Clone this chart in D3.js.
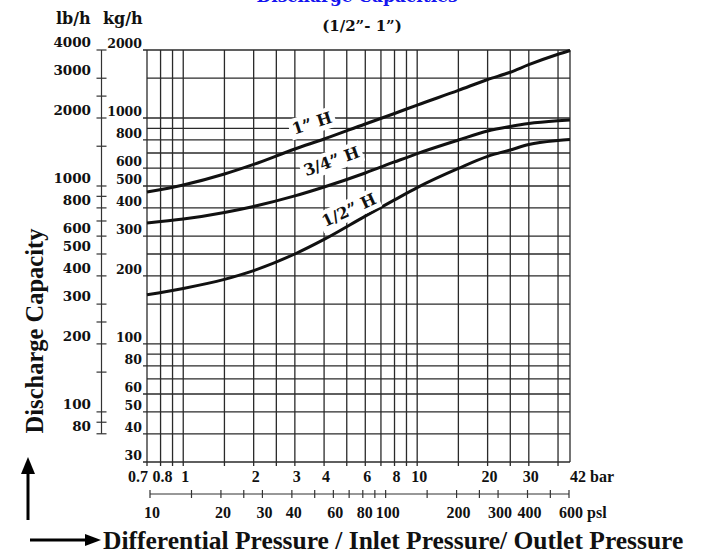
<!DOCTYPE html>
<html>
<head>
<meta charset="utf-8">
<script src="https://cdn.jsdelivr.net/npm/d3@7"></script>
<style>
  body { margin: 0; background: #fff; }
  svg { display: block; }
  .num { font-family: "DejaVu Serif", serif; font-weight: bold; fill: #111; }
  .tnum { font-family: "Liberation Serif", "Times New Roman", serif; font-weight: bold; fill: #111; }
</style>
</head>
<body>
<svg id="chart" width="707" height="554"></svg>
<script>
// values
const pressureBar = [0.7, 1, 1.5, 2, 3, 4, 6, 8, 10, 15, 20, 25, 30, 40, 45];
const cap1 = [470, 505, 565, 623, 729, 807, 941, 1047, 1141, 1325, 1481, 1594, 1722, 1916, 1990];
const cap34 = [343, 357, 382, 406, 452, 495, 571, 639, 696, 799, 876, 917, 945, 972, 980];
const cap12 = [165, 176, 193, 211, 250, 290, 368, 434, 492, 598, 676, 722, 763, 795, 803];

const curveNames = ["1\u201D H", "3/4\u201D H", "1/2\u201D H"];
const labelBar = [3.55, 4.3, 5.1];
const labelKg = [950, 645, 392];
const labelAngle = [-18, -20, -25];

const barGrid = [0.7, 0.8, 0.9, 1, 1.5, 2, 2.5, 3, 4, 5, 6, 7, 8, 9, 10, 15, 20, 25, 30, 40, 45];
const barLabels = [0.7, 0.8, 1, 2, 3, 4, 6, 8, 10, 20, 30];
const psiTicks = [10, 15, 20, 25, 30, 40, 50, 60, 70, 80, 90, 100, 150, 200, 250, 300, 400, 500, 600];
const psiLabels = [10, 20, 30, 40, 60, 80, 100, 200, 300, 400, 600];
const kgGrid = [2000, 1500, 1000, 900, 800, 700, 600, 500, 400, 300, 250, 200, 150, 100, 90, 80, 70, 60, 50, 40, 30];
const kgLabels = [2000, 1000, 800, 600, 500, 400, 300, 200, 100, 80, 60, 50, 40, 30];
const lbTicks = [4000, 3000, 2500, 2000, 1500, 1000, 900, 800, 700, 600, 500, 400, 300, 250, 200, 150, 100, 90, 80];
const lbLabels = [4000, 3000, 2000, 1000, 800, 600, 500, 400, 300, 200, 100, 80];

const svg = d3.select("#chart");

const x = d3.scaleLog().domain([0.7, 45]).range([147, 570]);
const y = d3.scaleLog().domain([30, 2000]).range([462, 50]);
const yLb = d3.scaleLog().domain([60, 4000]).range([462, 50]);
const xPsi = d3.scaleLog().domain([10, 600]).range([150, 569]);

const grid = svg.append("g").attr("stroke", "#2a2a2a").attr("stroke-width", 1.3);

// horizontal grid (kg/h)
grid.selectAll(".hgrid")
    .data(kgGrid)
    .join("line")
    .attr("class", "hgrid")
    .attr("x1", d => kgLabels.includes(d) ? x.range()[0] - 4 : x.range()[0])
    .attr("x2", x.range()[1])
    .attr("y1", d => y(d))
    .attr("y2", d => y(d));

// vertical grid (bar)
grid.selectAll(".vgrid")
    .data(barGrid)
    .join("line")
    .attr("class", "vgrid")
    .attr("x1", d => x(d))
    .attr("x2", d => x(d))
    .attr("y1", y.range()[1])
    .attr("y2", d => d === 45 ? y.range()[0] : y.range()[0] + 4);

// kg/h labels
svg.selectAll(".kglab")
    .data(kgLabels)
    .join("text")
    .attr("class", "kglab num")
    .attr("x", x.range()[0] - 5)
    .attr("y", d => y(d) - 2)
    .attr("text-anchor", "end")
    .style("font-size", "12.5px")
    .text(d => d);

// lb/h axis
const lbAxis = svg.append("g").attr("stroke", "#333").attr("stroke-width", 1.2);
lbAxis.append("line")
    .attr("x1", 101.5).attr("x2", 101.5)
    .attr("y1", yLb(4000)).attr("y2", yLb(80));
lbAxis.selectAll(".lbtick")
    .data(lbTicks)
    .join("line")
    .attr("x1", 96.5).attr("x2", 106.5)
    .attr("y1", d => yLb(d)).attr("y2", d => yLb(d));

svg.selectAll(".lblab")
    .data(lbLabels)
    .join("text")
    .attr("class", "lblab num")
    .attr("x", 91)
    .attr("y", d => yLb(d) - 3)
    .attr("text-anchor", "end")
    .style("font-size", "13.5px")
    .text(d => d);

// unit headers
svg.append("text").attr("class", "num").attr("x", 56).attr("y", 24)
    .style("font-size", "16px").text("lb/h");
svg.append("text").attr("class", "num").attr("x", 103).attr("y", 24)
    .style("font-size", "16px").text("kg/h");

// bar labels
svg.selectAll(".barlab")
    .data(barLabels)
    .join("text")
    .attr("class", "barlab tnum")
    .attr("x", d => x(d) + (d === 0.7 ? 1 : 2))
    .attr("y", 482)
    .attr("text-anchor", d => d === 0.7 ? "end" : "middle")
    .style("font-size", "16px")
    .text(d => d);
svg.append("text").attr("class", "tnum")
    .attr("x", x.range()[1]).attr("y", 482)
    .style("font-size", "16px").text("42 bar");

// psi axis
const psiAxis = svg.append("g").attr("stroke", "#333").attr("stroke-width", 1.2);
psiAxis.append("line")
    .attr("x1", xPsi.range()[0]).attr("x2", xPsi.range()[1])
    .attr("y1", 494).attr("y2", 494);
psiAxis.selectAll(".psitick")
    .data(psiTicks)
    .join("line")
    .attr("x1", d => xPsi(d)).attr("x2", d => xPsi(d))
    .attr("y1", 490).attr("y2", 498);

svg.selectAll(".psilab")
    .data(psiLabels)
    .join("text")
    .attr("class", "psilab tnum")
    .attr("x", d => xPsi(d) + 2)
    .attr("y", 518)
    .attr("text-anchor", "middle")
    .style("font-size", "16px")
    .text(d => d);
svg.append("text").attr("class", "tnum")
    .attr("x", xPsi.range()[1] + 18).attr("y", 518)
    .style("font-size", "16px").text("psl");

// curves
const line = d3.line()
    .x(d => x(d[0]))
    .y(d => y(d[1]))
    .curve(d3.curveMonotoneX);

[cap1, cap34, cap12].forEach(series => {
    svg.append("path")
        .datum(pressureBar.map((p, i) => [p, series[i]]))
        .attr("fill", "none")
        .attr("stroke", "#111")
        .attr("stroke-width", 3)
        .attr("d", line);
});

// curve labels on white boxes
curveNames.forEach((name, i) => {
    const g = svg.append("g")
        .attr("transform", `translate(${x(labelBar[i])},${y(labelKg[i])}) rotate(${labelAngle[i]})`);
    const t = g.append("text")
        .attr("class", "num")
        .attr("text-anchor", "middle")
        .attr("dy", "0.36em")
        .style("font-size", "16px")
        .text(name);
    const bb = t.node().getBBox();
    g.insert("rect", "text")
        .attr("x", bb.x - 3).attr("y", bb.y - 1)
        .attr("width", bb.width + 6).attr("height", bb.height + 2)
        .attr("fill", "#fff");
});

// titles (main title is cut by the top edge, as in the source)
svg.append("text").attr("class", "num")
    .attr("x", 357).attr("y", 1.5)
    .attr("text-anchor", "middle")
    .style("font-size", "17px").style("fill", "#1414f0")
    .text("Discharge Capacities");
svg.append("text").attr("class", "num")
    .attr("x", 362).attr("y", 31)
    .attr("text-anchor", "middle")
    .style("font-size", "15px")
    .text("(1/2\u201D- 1\u201D)");

svg.append("text").attr("class", "tnum")
    .attr("transform", "translate(43,331) rotate(-90)")
    .attr("text-anchor", "middle")
    .style("font-size", "24.5px")
    .text("Discharge Capacity");

svg.append("text").attr("class", "tnum")
    .attr("x", 103).attr("y", 549)
    .style("font-size", "25.5px")
    .text("Differential Pressure / Inlet Pressure/ Outlet Pressure");

// arrows
svg.append("line").attr("x1", 28).attr("x2", 28).attr("y1", 520).attr("y2", 470)
    .attr("stroke", "#000").attr("stroke-width", 3);
svg.append("path").attr("d", "M21,474 L28,457 L35,474 Z").attr("fill", "#000");
svg.append("line").attr("x1", 30).attr("x2", 88).attr("y1", 540).attr("y2", 540)
    .attr("stroke", "#000").attr("stroke-width", 3);
svg.append("path").attr("d", "M85,534 L101,540 L85,546 Z").attr("fill", "#000");
</script>
</body>
</html>
